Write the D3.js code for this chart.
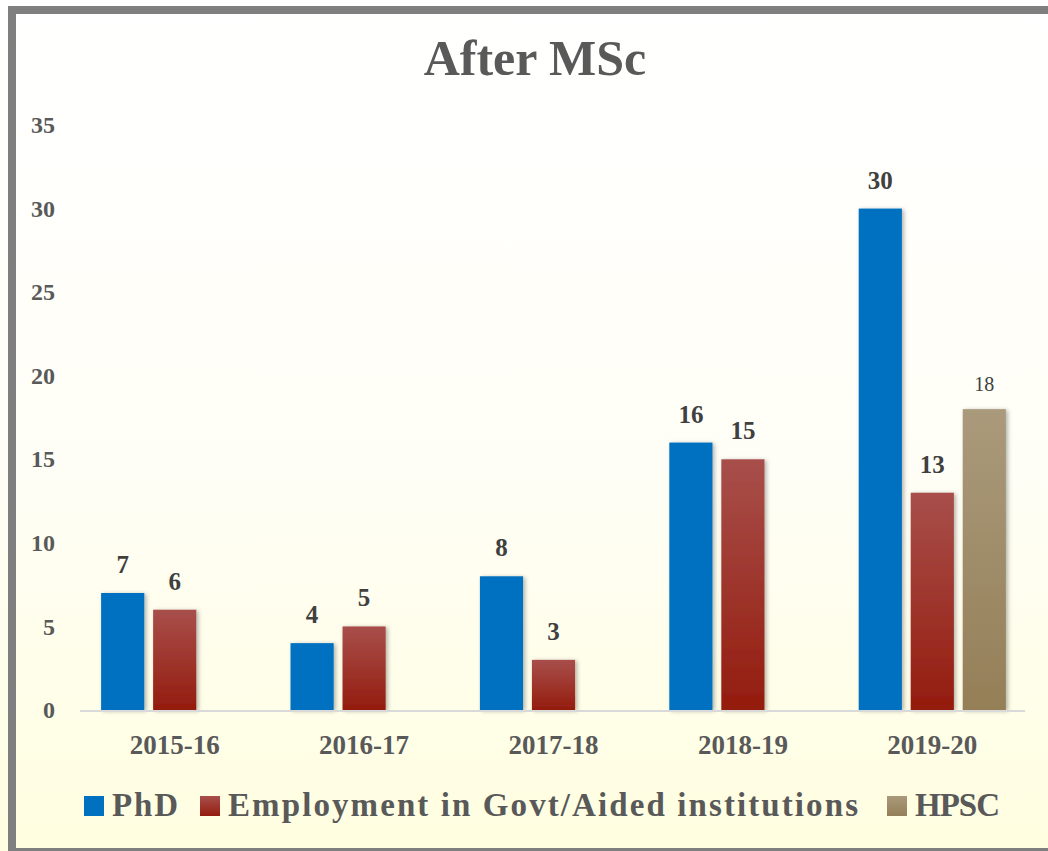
<!DOCTYPE html>
<html>
<head>
<meta charset="utf-8">
<script src="https://cdn.jsdelivr.net/npm/d3@7"></script>
<style>
  html, body { margin: 0; padding: 0; overflow: hidden; }
  svg { display: block; font-family: "Liberation Serif", "Times New Roman", serif; }
</style>
</head>
<body>
<div id="chart"></div>
<script>
const years = ["2015-16", "2016-17", "2017-18", "2018-19", "2019-20"];
const seriesNames = ["PhD", "Employment in Govt/Aided institutions", "HPSC"];
const phd = [7, 4, 8, 16, 30];
const employment = [6, 5, 3, 15, 13];
const hpsc = [null, null, null, null, 18];
const yTicks = [0, 5, 10, 15, 20, 25, 30, 35];

const width = 1048;
const height = 851;
const marginLeft = 80;
const marginRight = 21;
const plotTop = 125;
const plotBottom = 710;

const colors = {
  "PhD": ["#0070c0", "#0070c0"],
  "Employment in Govt/Aided institutions": ["#a84f4b", "#941c0e"],
  "HPSC": ["#aa9a7b", "#947f57"]
};

const values = [phd, employment, hpsc];
const data = years.map((year, i) => ({
  year,
  items: seriesNames.map((s, j) => ({ series: s, value: values[j][i], idx: j }))
}));

const svg = d3.select("#chart")
  .append("svg")
  .attr("width", width)
  .attr("height", height)
  .attr("viewBox", [0, 0, width, height]);

const defs = svg.append("defs");

// page background: white at top, pale yellow at bottom
const bg = defs.append("linearGradient")
  .attr("id", "bg")
  .attr("x1", 0).attr("y1", 0).attr("x2", 0).attr("y2", 1);
bg.append("stop").attr("offset", "0%").attr("stop-color", "#ffffff");
bg.append("stop").attr("offset", "55%").attr("stop-color", "#fffef6");
bg.append("stop").attr("offset", "100%").attr("stop-color", "#fffee0");

seriesNames.forEach((s, j) => {
  const g = defs.append("linearGradient")
    .attr("id", "grad" + j)
    .attr("x1", 0).attr("y1", 0).attr("x2", 0).attr("y2", 1);
  g.append("stop").attr("offset", "0%").attr("stop-color", colors[s][0]);
  g.append("stop").attr("offset", "100%").attr("stop-color", colors[s][1]);
});

const shadow = defs.append("filter")
  .attr("id", "shadow")
  .attr("x", "-20%").attr("y", "-10%").attr("width", "150%").attr("height", "130%");
shadow.append("feDropShadow")
  .attr("dx", 2).attr("dy", 1)
  .attr("stdDeviation", 2)
  .attr("flood-color", "#000")
  .attr("flood-opacity", 0.3);

svg.append("rect")
  .attr("width", width)
  .attr("height", height)
  .attr("fill", "url(#bg)");

// frame (right edge runs off the picture)
svg.append("rect")
  .attr("x", 12)
  .attr("y", 10)
  .attr("width", 1100)
  .attr("height", 842)
  .attr("fill", "none")
  .attr("stroke", "#7f7f7f")
  .attr("stroke-width", 8);

// title
svg.append("text")
  .attr("x", 535)
  .attr("y", 75)
  .attr("text-anchor", "middle")
  .attr("fill", "#595959")
  .attr("font-size", 50)
  .attr("font-weight", "bold")
  .text("After MSc");

const x0 = d3.scaleBand()
  .domain(years)
  .range([marginLeft, width - marginRight])
  .padding(0);

const x1 = d3.scaleBand()
  .domain(seriesNames)
  .range([0, x0.bandwidth()])
  .paddingInner(0.17)
  .paddingOuter(0.406);

const y = d3.scaleLinear()
  .domain([0, 35])
  .range([plotBottom, plotTop]);

// y tick labels (no axis line)
svg.append("g")
  .attr("transform", `translate(${marginLeft},0)`)
  .call(d3.axisLeft(y).tickValues(yTicks).tickSize(0).tickPadding(25))
  .call(g => g.select(".domain").remove())
  .call(g => g.selectAll("text")
    .attr("fill", "#595959")
    .attr("font-size", 24)
    .attr("font-weight", "bold")
    .attr("font-family", "Liberation Serif, serif"));

// bars
const groups = svg.append("g")
  .selectAll("g")
  .data(data)
  .join("g")
  .attr("transform", d => `translate(${x0(d.year)},0)`);

groups.selectAll("rect")
  .data(d => d.items.filter(it => it.value != null))
  .join("rect")
  .attr("x", d => x1(d.series))
  .attr("y", d => y(d.value))
  .attr("width", x1.bandwidth())
  .attr("height", d => y(0) - y(d.value))
  .attr("fill", d => `url(#grad${d.idx})`)
  .attr("filter", "url(#shadow)");

// data labels
groups.selectAll("text")
  .data(d => d.items.filter(it => it.value != null))
  .join("text")
  .attr("x", d => x1(d.series) + x1.bandwidth() / 2)
  .attr("y", d => y(d.value) - (d.series === "HPSC" ? 18 : 20))
  .attr("text-anchor", "middle")
  .attr("fill", "#404040")
  .attr("font-size", d => d.series === "HPSC" ? 20 : 25)
  .attr("font-weight", d => d.series === "HPSC" ? "normal" : "bold")
  .text(d => d.value);

// baseline
svg.append("line")
  .attr("x1", marginLeft)
  .attr("x2", width - marginRight - 2)
  .attr("y1", y(0) + 1)
  .attr("y2", y(0) + 1)
  .attr("stroke", "#d9d9d9")
  .attr("stroke-width", 2);

// x labels
svg.append("g")
  .attr("transform", `translate(0,${plotBottom})`)
  .call(d3.axisBottom(x0).tickSize(0).tickPadding(0))
  .call(g => g.select(".domain").remove())
  .call(g => g.selectAll("text")
    .attr("dy", null)
    .attr("y", 44)
    .attr("fill", "#595959")
    .attr("font-size", 27)
    .attr("font-weight", "bold")
    .attr("font-family", "Liberation Serif, serif"));

// legend
const legendX = [84, 200, 887];
const legendLen = [66, 630, 85];
const legend = svg.append("g")
  .selectAll("g")
  .data(seriesNames)
  .join("g")
  .attr("transform", (d, i) => `translate(${legendX[i]},796)`);

legend.append("rect")
  .attr("width", 20)
  .attr("height", 20)
  .attr("fill", (d, i) => `url(#grad${i})`);

legend.append("text")
  .attr("x", 28)
  .attr("y", 20)
  .attr("fill", "#595959")
  .attr("font-size", 33)
  .attr("font-weight", "bold")
  .attr("textLength", (d, i) => legendLen[i])
  .attr("lengthAdjust", "spacing")
  .text(d => d);
</script>
</body>
</html>
